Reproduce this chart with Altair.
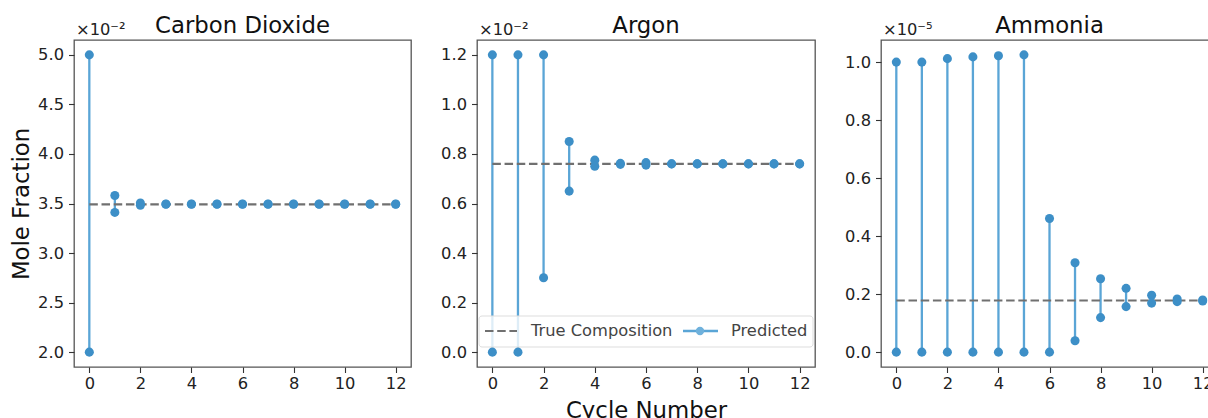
import altair as alt
import pandas as pd

cycles = list(range(13))

co2_high = [5.00, 3.58, 3.505, 3.495, 3.495, 3.495, 3.495, 3.495, 3.495, 3.495, 3.495, 3.495, 3.495]
co2_low = [2.00, 3.41, 3.482, 3.492, 3.492, 3.492, 3.492, 3.492, 3.492, 3.492, 3.492, 3.492, 3.492]
co2_true = 3.492

ar_high = [1.20, 1.20, 1.20, 0.85, 0.775, 0.762, 0.765, 0.760, 0.760, 0.760, 0.760, 0.760, 0.760]
ar_low = [0.00, 0.00, 0.30, 0.65, 0.750, 0.758, 0.755, 0.760, 0.760, 0.760, 0.760, 0.760, 0.760]
ar_true = 0.76

nh3_high = [1.000, 1.000, 1.012, 1.018, 1.022, 1.025, 0.461, 0.308, 0.253, 0.220, 0.196, 0.183, 0.180]
nh3_low = [0.000, 0.000, 0.000, 0.000, 0.000, 0.000, 0.000, 0.039, 0.119, 0.157, 0.169, 0.174, 0.176]
nh3_true = 0.178

titles = ["Carbon Dioxide", "Argon", "Ammonia"]
exponents = ["×10⁻²", "×10⁻²", "×10⁻⁵"]
y_domains = [[1.85, 5.15], [-0.06, 1.26], [-0.05125, 1.07625]]
y_ticks = [[2.0, 2.5, 3.0, 3.5, 4.0, 4.5, 5.0],
           [0.0, 0.2, 0.4, 0.6, 0.8, 1.0, 1.2],
           [0.0, 0.2, 0.4, 0.6, 0.8, 1.0]]
x_ticks = [0, 2, 4, 6, 8, 10, 12]
legend_labels = ["True Composition", "Predicted"]

FONT = "DejaVu Sans"
LINE_C = "#5aa5d6"
PT_C = "#3d8fc7"
DASH_C = "#707070"
H = 327
widths = [337, 338, 337]
TICK_FS = 16.3
TITLE_FS = 22.8


def panel(i, high, low, true_val, show_ytitle, show_xtitle, legend):
    W = widths[i]
    df = pd.DataFrame({"cycle": cycles, "high": high, "low": low})
    pts = pd.DataFrame({
        "cycle": cycles + cycles,
        "val": list(high) + list(low),
    })
    tdf = pd.DataFrame({"x0": [cycles[0]], "x1": [cycles[-1]], "t": [true_val]})

    xs = alt.Scale(domain=[-0.6, 12.6], nice=False, zero=False)
    ys = alt.Scale(domain=y_domains[i], nice=False, zero=False)
    xax = alt.Axis(values=x_ticks, title="Cycle Number" if show_xtitle else None,
                   grid=False, domain=False, tickColor="#333", tickSize=5.5, tickWidth=1.1,
                   labelFontSize=TICK_FS, labelColor="#222", labelFont=FONT,
                   titleFont=FONT, titleFontSize=TITLE_FS, titleFontWeight="normal",
                   titleColor="#111", labelPadding=3, titlePadding=8)
    yax = alt.Axis(values=y_ticks[i], format=".1f",
                   title="Mole Fraction" if show_ytitle else None,
                   grid=False, domain=False, tickColor="#333", tickSize=5.5, tickWidth=1.1,
                   labelFontSize=TICK_FS, labelColor="#222", labelFont=FONT,
                   titleFont=FONT, titleFontSize=TITLE_FS, titleFontWeight="normal",
                   titleColor="#111", labelPadding=5, titlePadding=4)

    stems = alt.Chart(df).mark_rule(color=LINE_C, strokeWidth=2.3).encode(
        x=alt.X("cycle:Q", scale=xs, axis=xax),
        y=alt.Y("low:Q", scale=ys, axis=yax),
        y2="high:Q",
    )
    true_line = alt.Chart(tdf).mark_rule(color=DASH_C, strokeWidth=2.2,
                                         strokeDash=[8.5, 3.7]).encode(
        x=alt.X("x0:Q", scale=xs), x2="x1:Q", y=alt.Y("t:Q", scale=ys)
    )
    dots = alt.Chart(pts).mark_circle(color=PT_C, opacity=1, size=82).encode(
        x=alt.X("cycle:Q", scale=xs), y=alt.Y("val:Q", scale=ys)
    )
    one = pd.DataFrame({"a": [0]})
    expo = alt.Chart(one).mark_text(align="left", baseline="alphabetic", fontSize=TICK_FS,
                                    font=FONT, color="#222").encode(
        x=alt.value(2), y=alt.value(-5), text=alt.value(exponents[i])
    )
    ttl = alt.Chart(one).mark_text(align="center", baseline="alphabetic", fontSize=TITLE_FS,
                                   font=FONT, color="#111").encode(
        x=alt.value(W / 2), y=alt.value(-7), text=alt.value(titles[i])
    )
    layers = [stems, true_line, dots, expo, ttl]
    if legend:
        box = alt.Chart(one).mark_rect(fill="white", fillOpacity=0.8, stroke="#dddddd",
                                       strokeWidth=1, cornerRadius=3).encode(
            x=alt.value(2), x2=alt.value(336), y=alt.value(276), y2=alt.value(307))
        l1 = alt.Chart(one).mark_rule(color=DASH_C, strokeWidth=2.2, strokeDash=[8.5, 3.7]).encode(
            x=alt.value(8), x2=alt.value(40), y=alt.value(291))
        t1 = alt.Chart(one).mark_text(align="left", baseline="middle", fontSize=TICK_FS,
                                      font=FONT, color="#444").encode(
            x=alt.value(54), y=alt.value(291), text=alt.value(legend_labels[0]))
        l2 = alt.Chart(one).mark_rule(color=LINE_C, strokeWidth=2.3).encode(
            x=alt.value(206), x2=alt.value(241), y=alt.value(291))
        c2 = alt.Chart(one).mark_circle(color="#6fb1dc", opacity=1, size=70).encode(
            x=alt.value(223), y=alt.value(291))
        t2 = alt.Chart(one).mark_text(align="left", baseline="middle", fontSize=TICK_FS,
                                      font=FONT, color="#444").encode(
            x=alt.value(254), y=alt.value(291), text=alt.value(legend_labels[1]))
        layers += [box, l1, t1, l2, c2, t2]
    return alt.layer(*layers).properties(width=W, height=H)


p1 = panel(0, co2_high, co2_low, co2_true, True, False, False)
p2 = panel(1, ar_high, ar_low, ar_true, False, True, True)
p3 = panel(2, nh3_high, nh3_low, nh3_true, False, False, False)

chart = alt.hconcat(p1, p2, p3, spacing=66, bounds="flush").properties(
    padding={"left": 9, "top": 14, "right": -11, "bottom": -5},
    background="white",
).configure_view(stroke="#555555", strokeWidth=1.3)

chart.save("out.html", embed_options={"renderer": "svg", "actions": False})
